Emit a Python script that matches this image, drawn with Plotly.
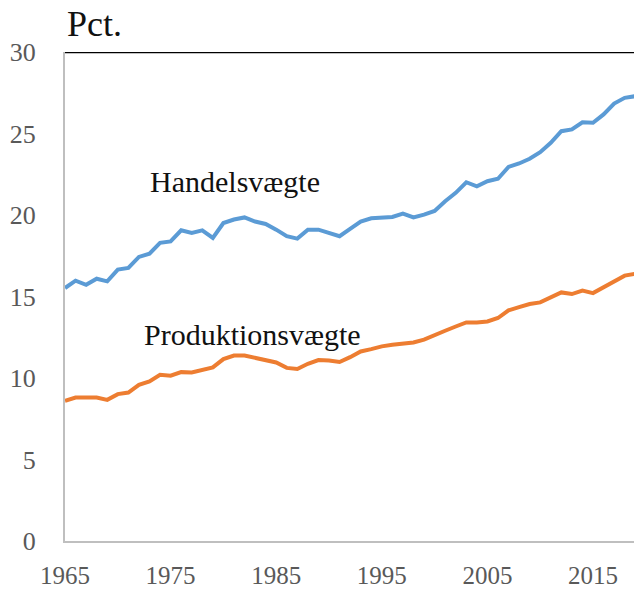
import plotly.graph_objects as go

years = list(range(1965, 2020))

handelsvaegte = [
    15.52, 15.97, 15.72, 16.09, 15.93, 16.65, 16.75, 17.43, 17.63, 18.29,
    18.38, 19.06, 18.90, 19.06, 18.59, 19.51, 19.72, 19.85, 19.60, 19.45,
    19.10, 18.70, 18.55, 19.10, 19.10, 18.90, 18.70, 19.15, 19.60, 19.80,
    19.86, 19.88, 20.09, 19.85, 20.02, 20.25, 20.84, 21.36, 22.01, 21.76,
    22.07, 22.22, 22.95, 23.16, 23.45, 23.85, 24.43, 25.14, 25.25, 25.69,
    25.66, 26.17, 26.84, 27.19, 27.29,
]

produktionsvaegte = [
    8.60, 8.80, 8.80, 8.80, 8.66, 9.01, 9.11, 9.58, 9.79, 10.20,
    10.14, 10.36, 10.34, 10.50, 10.65, 11.16, 11.38, 11.38, 11.25, 11.12,
    10.95, 10.62, 10.55, 10.87, 11.10, 11.08, 10.98, 11.28, 11.63, 11.77,
    11.94, 12.04, 12.10, 12.18, 12.35, 12.65, 12.90, 13.16, 13.41, 13.41,
    13.47, 13.68, 14.15, 14.35, 14.54, 14.64, 14.97, 15.25, 15.15, 15.36,
    15.21, 15.58, 15.93, 16.28, 16.40,
]

series_names = ["Handelsvægte", "Produktionsvægte"]
y_tick_values = [0, 5, 10, 15, 20, 25, 30]
x_tick_values = [1965, 1975, 1985, 1995, 2005, 2015]

SERIF = "Liberation Serif, Times New Roman, serif"
BLUE = "#5B9BD5"
ORANGE = "#ED7D31"

fig = go.Figure()
fig.add_trace(go.Scatter(x=years, y=handelsvaegte, mode="lines", name=series_names[0],
                         line=dict(color=BLUE, width=4), cliponaxis=False))
fig.add_trace(go.Scatter(x=years, y=produktionsvaegte, mode="lines", name=series_names[1],
                         line=dict(color=ORANGE, width=4), cliponaxis=False))

# top border line at 30
fig.add_shape(type="line", xref="paper", yref="y", x0=0, x1=1, y0=30, y1=30,
              line=dict(color="black", width=2.5))

fig.add_annotation(text=series_names[0], xref="x", yref="y", x=1972.9, y=22.08,
                   xanchor="left", yanchor="middle", showarrow=False,
                   font=dict(family=SERIF, size=30, color="#111111"))
fig.add_annotation(text=series_names[1], xref="x", yref="y", x=1972.3, y=12.67,
                   xanchor="left", yanchor="middle", showarrow=False,
                   font=dict(family=SERIF, size=30, color="#111111"))
fig.add_annotation(text="Pct.", xref="paper", yref="paper", x=0, y=1.057,
                   xanchor="left", yanchor="middle", showarrow=False,
                   font=dict(family=SERIF, size=36, color="#111111"))

# page body adds an 8px offset, so the figure is sized to the remaining window
fig.update_layout(
    width=634, height=582,
    margin=dict(l=57, r=0, t=44, b=49),
    paper_bgcolor="white", plot_bgcolor="white",
    showlegend=False,
    font=dict(family=SERIF),
)
fig.update_xaxes(
    range=[1965, 2019.64], tickvals=x_tick_values, ticktext=[str(v) for v in x_tick_values],
    showgrid=False, zeroline=False, showline=True, linecolor="#BFBFBF", linewidth=2,
    ticks="", ticklabelstandoff=11, automargin=False,
    tickfont=dict(family=SERIF, size=25, color="#595959"),
)
fig.update_yaxes(
    range=[0, 30], tickvals=y_tick_values,
    showgrid=False, zeroline=False, showline=True, linecolor="#BFBFBF", linewidth=2,
    ticks="", ticklabelstandoff=22, automargin=False,
    tickfont=dict(family=SERIF, size=26, color="#595959"),
)

fig.write_html("out.html")
